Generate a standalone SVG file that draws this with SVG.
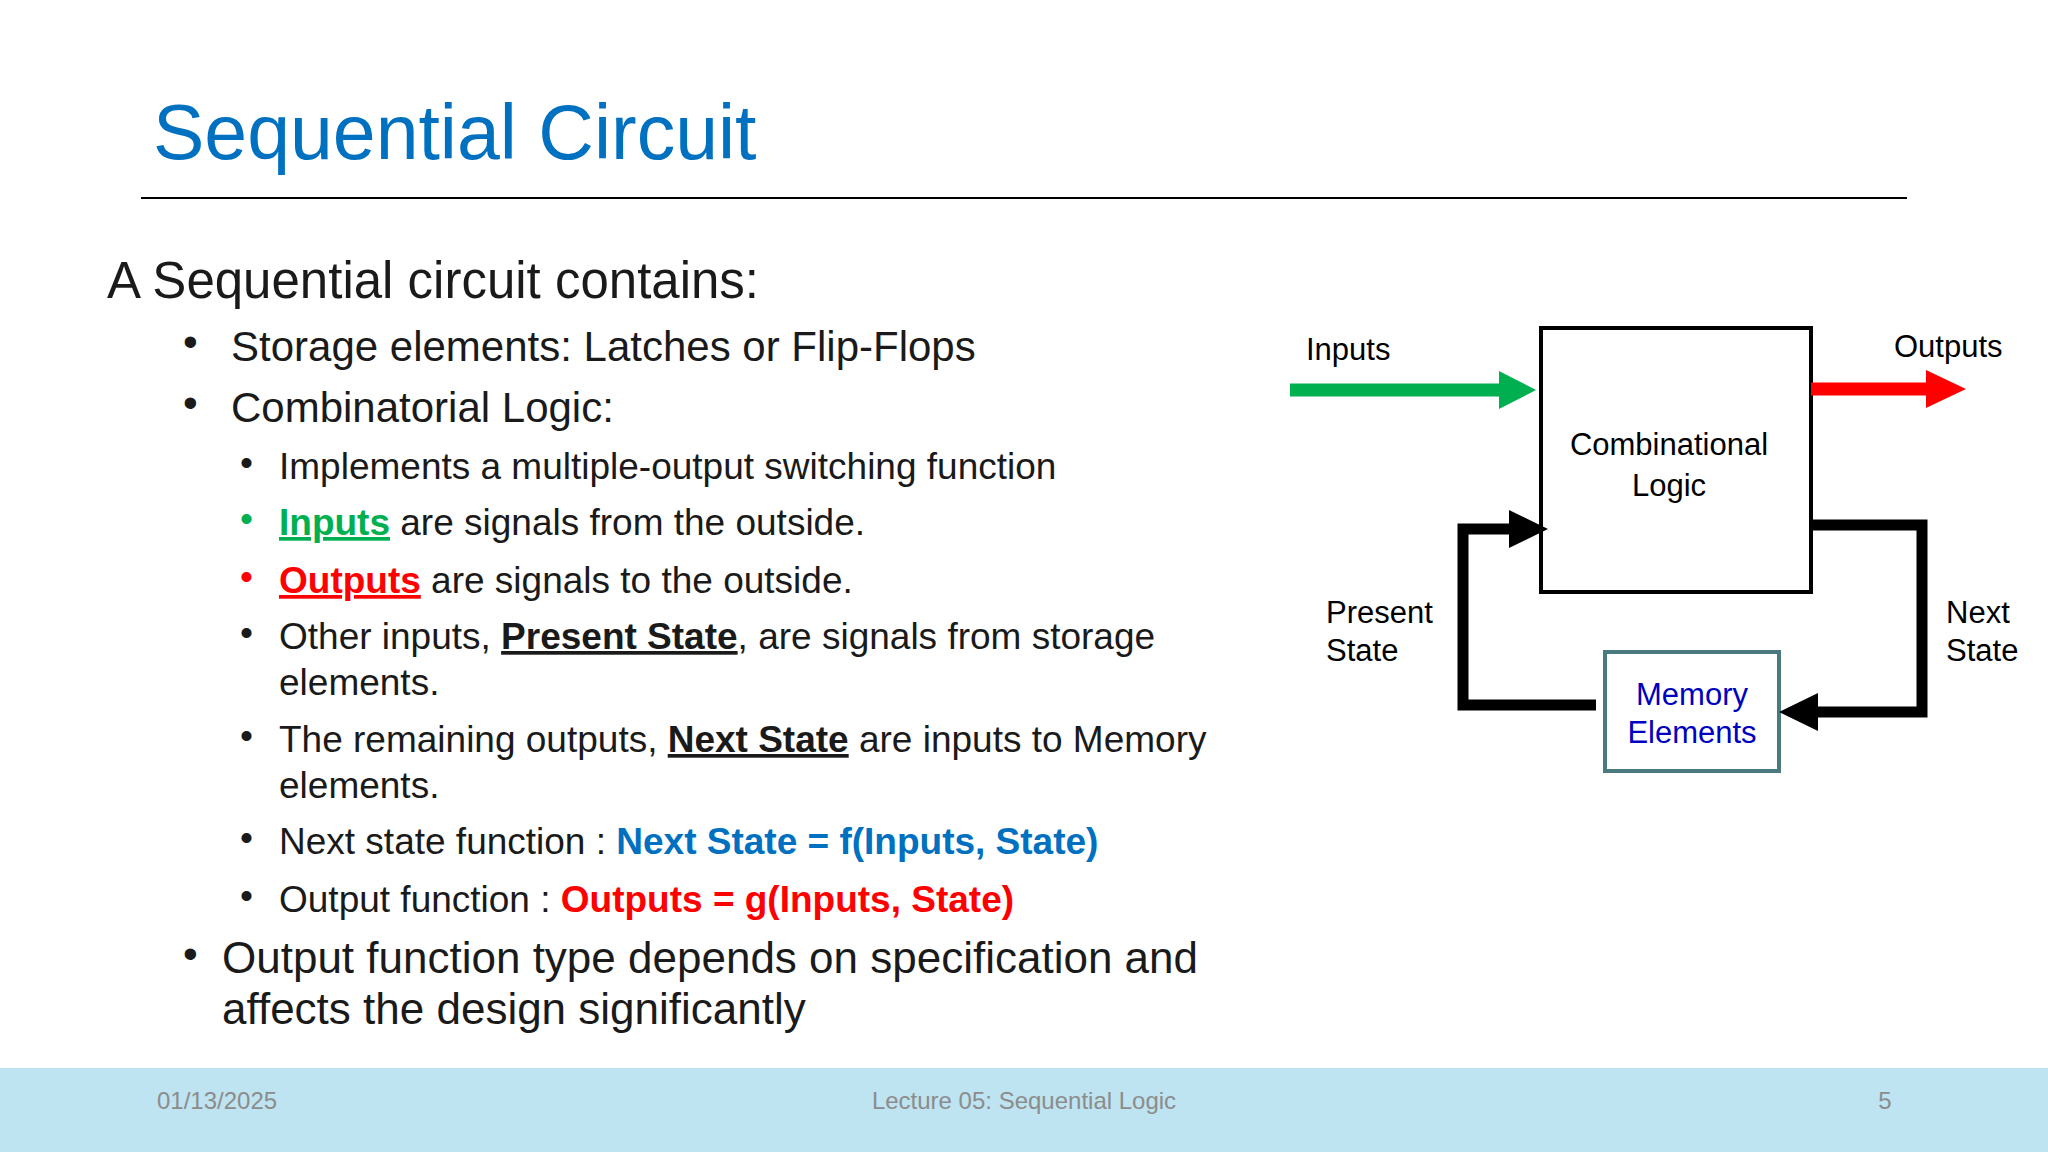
<svg xmlns="http://www.w3.org/2000/svg" width="2048" height="1152" viewBox="0 0 2048 1152">
<style>
text{font-family:"Liberation Sans",Arial,sans-serif;fill:#1a1a1a}
.l1{font-size:42px}.l2{font-size:37px}.d{font-size:31px;fill:#000}
.f{font-size:24px;fill:#8c8c8c}
.fb{fill:none;stroke:#000;stroke-width:11}
u,.u{text-decoration:underline}
</style>
<rect width="2048" height="1152" fill="#fff"/>
<g id="title"><text x="153" y="159" style="font-size:77px;fill:#0070C0">Sequential Circuit</text>
<line x1="141" y1="198" x2="1907" y2="198" stroke="#000" stroke-width="2"/></g>
<g id="body">
<text x="107" y="298" style="font-size:51px">A Sequential circuit contains:</text>
<text x="183" y="356" class="l1">•</text><text x="231" y="361" class="l1">Storage elements: Latches or Flip-Flops</text>
<text x="183" y="417" class="l1">•</text><text x="231" y="422" class="l1">Combinatorial Logic:</text>
<text x="240" y="475" class="l2">•</text><text x="279" y="479" class="l2">Implements a multiple-output switching function</text>
<text x="240" y="531" class="l2" style="fill:#00B050">•</text><text x="279" y="535" class="l2"><tspan class="u" style="fill:#00B050;font-weight:bold">Inputs</tspan> are signals from the outside.</text>
<text x="240" y="589" class="l2" style="fill:#FF0000">•</text><text x="279" y="593" class="l2"><tspan class="u" style="fill:#FF0000;font-weight:bold">Outputs</tspan> are signals to the outside.</text>
<text x="240" y="645" class="l2">•</text><text x="279" y="649" class="l2">Other inputs, <tspan class="u" style="font-weight:bold">Present State</tspan>, are signals from storage</text>
<text x="279" y="695" class="l2">elements.</text>
<text x="240" y="748" class="l2">•</text><text x="279" y="752" class="l2">The remaining outputs, <tspan class="u" style="font-weight:bold">Next State</tspan> are inputs to Memory</text>
<text x="279" y="798" class="l2">elements.</text>
<text x="240" y="850" class="l2">•</text><text x="279" y="854" class="l2">Next state function : <tspan style="fill:#0070C0;font-weight:bold">Next State = f(Inputs, State)</tspan></text>
<text x="240" y="908" class="l2">•</text><text x="279" y="912" class="l2">Output function  : <tspan style="fill:#FF0000;font-weight:bold">Outputs = g(Inputs, State)</tspan></text>
<text x="183" y="968" class="l1">•</text><text x="222" y="973" style="font-size:44px">Output function type depends on specification and</text>
<text x="222" y="1024" style="font-size:44px">affects the design significantly</text>
</g>
<g id="comb"><rect x="1541" y="328" width="270" height="264" fill="#fff" stroke="#000" stroke-width="4"/>
<text x="1669" y="455" class="d" text-anchor="middle">Combinational</text><text x="1669" y="496" class="d" text-anchor="middle">Logic</text></g>
<g id="memory"><rect x="1605" y="652" width="174" height="119" fill="#fff" stroke="#4A7A80" stroke-width="4"/>
<text x="1692" y="705" class="d" text-anchor="middle" style="fill:#0000C0">Memory</text><text x="1692" y="743" class="d" text-anchor="middle" style="fill:#0000C0">Elements</text></g>
<g id="labels">
<text x="1306" y="360" class="d">Inputs</text><text x="1894" y="357" class="d">Outputs</text>
<text x="1326" y="623" class="d">Present</text><text x="1326" y="661" class="d">State</text>
<text x="1946" y="623" class="d">Next</text><text x="1946" y="661" class="d">State</text>
</g>
<g id="connectors">
<line x1="1290" y1="390" x2="1502" y2="390" stroke="#00B050" stroke-width="13"/>
<polygon points="1499,371 1536,390 1499,409" fill="#00B050"/>
<line x1="1811" y1="389" x2="1928" y2="389" stroke="#FF0000" stroke-width="13"/>
<polygon points="1926,370 1966,389 1926,408" fill="#FF0000"/>
<polyline class="fb" points="1596,705 1463,705 1463,529 1512,529"/>
<polygon points="1509,510 1548,529 1509,548" fill="#000"/>
<polyline class="fb" points="1811,525 1922,525 1922,712 1815,712"/>
<polygon points="1818,693 1779,712 1818,731" fill="#000"/>
</g>
<g id="footer"><rect x="0" y="1068" width="2048" height="84" fill="#BEE3F1"/>
<text x="157" y="1109" class="f">01/13/2025</text>
<text x="1024" y="1109" class="f" text-anchor="middle">Lecture 05: Sequential Logic</text>
<text x="1885" y="1109" class="f" text-anchor="middle">5</text></g>
</svg>
